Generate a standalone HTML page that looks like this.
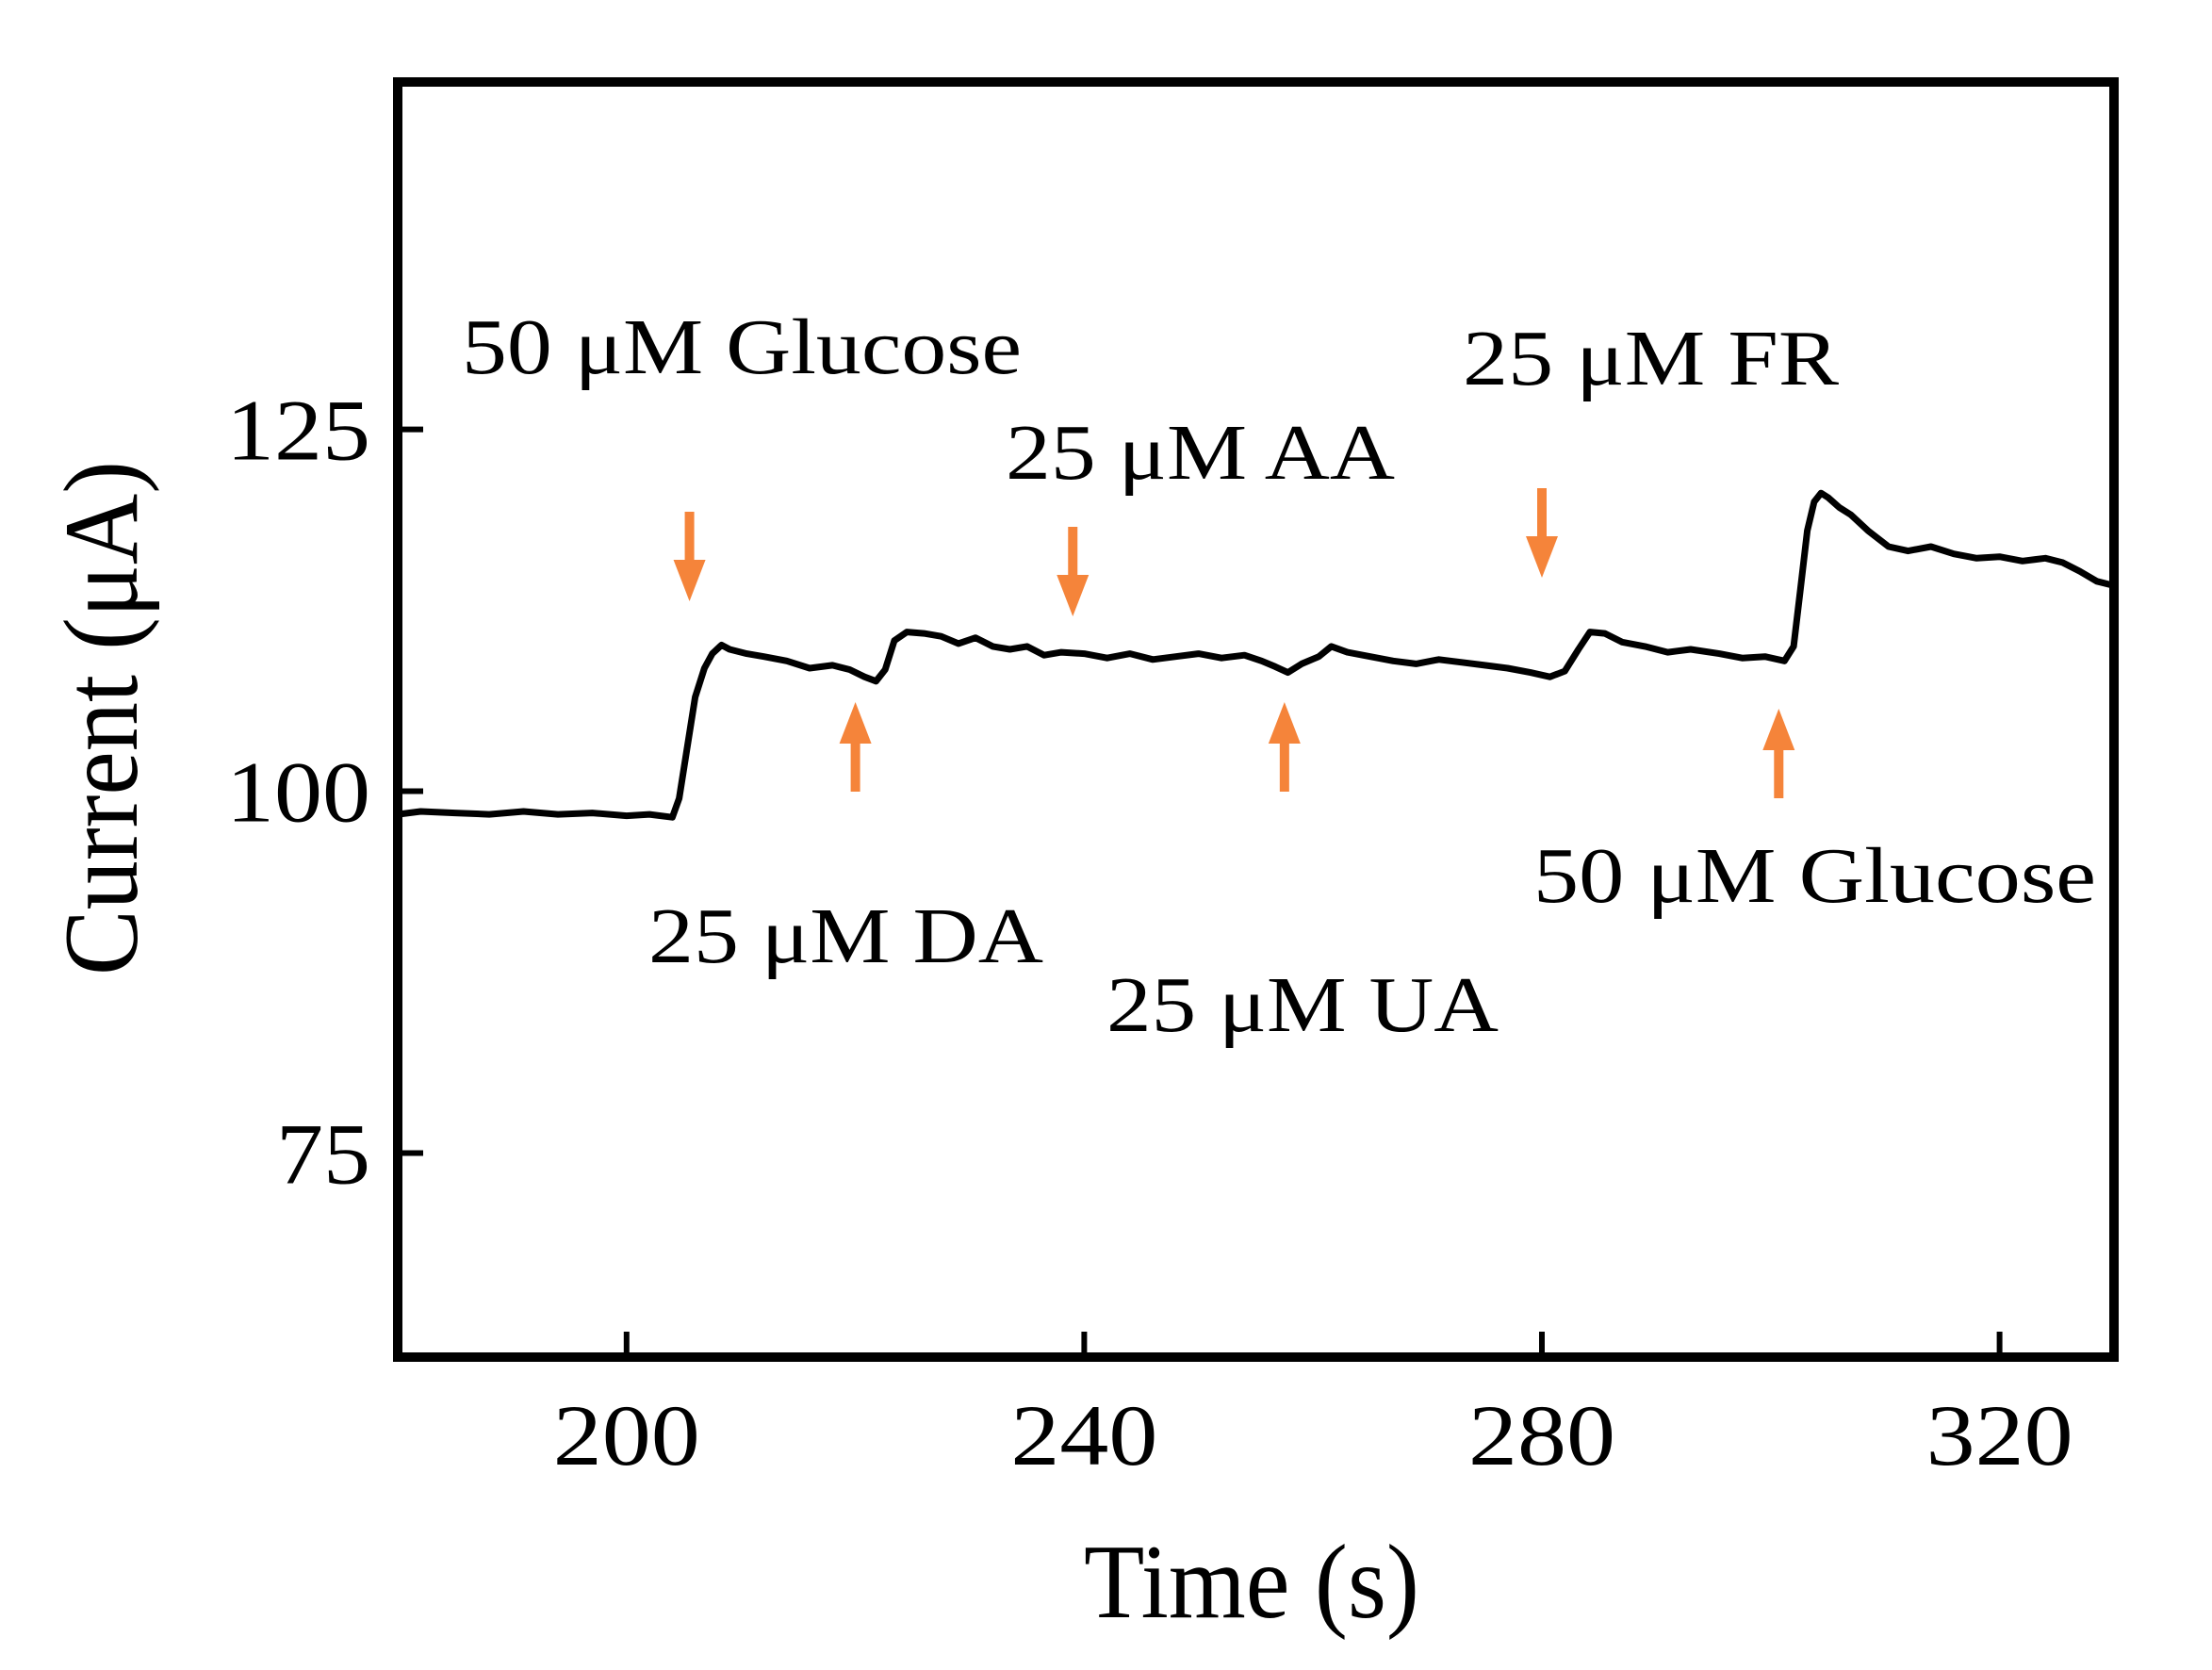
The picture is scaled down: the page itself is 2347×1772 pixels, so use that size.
<!DOCTYPE html>
<html><head><meta charset="utf-8"><style>
html,body{margin:0;padding:0;background:#fff;}
svg{display:block;}
text{font-family:"Liberation Serif",serif;fill:#000;}
</style></head><body>
<svg id="chart" width="2347" height="1772" viewBox="0 0 2347 1772"></svg>
<script>
const times = [180,182,185,188,191,194,197,200,202,204,204.6,205.3,206,206.8,207.5,208.3,209,210.5,212,214,216,218,219.5,220.8,221.8,222.6,223.4,224.5,226,227.5,229,230.5,232,233.5,235,236.5,238,240,242,244,246,248,250,252,254,255.5,256.7,257.8,259,260.5,261.6,263,265,267,269,271,273,275,277,279,280.7,282,283.2,284.2,285.5,287,289,291,293,295.5,297.5,299.5,301.2,302,302.6,303.2,303.8,304.4,305,306,307,308.5,310.3,312,314,316,318,320,322,324,325.5,327,328.5,330];
const currents = [98.4,98.6,98.5,98.4,98.6,98.4,98.5,98.3,98.4,98.2,99.5,103,106.5,108.5,109.5,110.1,109.8,109.5,109.3,109,108.5,108.7,108.4,107.9,107.6,108.4,110.4,111,110.9,110.7,110.2,110.6,110,109.8,110,109.4,109.6,109.5,109.2,109.5,109.1,109.3,109.5,109.2,109.4,109,108.6,108.2,108.8,109.3,110,109.6,109.3,109.0,108.8,109.1,108.9,108.7,108.5,108.2,107.9,108.3,109.8,111,110.9,110.3,110.0,109.6,109.8,109.5,109.2,109.3,109.0,110,114,118,120,120.6,120.3,119.6,119.1,118,116.9,116.6,116.9,116.4,116.1,116.2,115.9,116.1,115.8,115.2,114.5,114.2];
const xTicks = [200,240,280,320];
const yTicks = [75,100,125];
const annotations = [
 {t:"50 μM Glucose", x:490, y:396, w:594},
 {t:"25 μM AA", x:1067, y:508, w:413},
 {t:"25 μM FR", x:1552, y:408, w:399},
 {t:"25 μM DA", x:688, y:1021, w:419},
 {t:"25 μM UA", x:1174, y:1094, w:416},
 {t:"50 μM Glucose", x:1627, y:957, w:597}
];
const arrowTimes = [205.5, 220, 239, 257.5, 280, 300.7];
const arrowDirs = ["down","up","down","up","down","up"];

const L=422,R=2243,T=87,B=1440, X0=180,X1=330,Y0=60.9,Y1=149;
const sx=v=>L+(v-X0)/(X1-X0)*(R-L);
const sy=v=>B-(v-Y0)/(Y1-Y0)*(B-T);
const svg=document.getElementById('chart');
const NS='http://www.w3.org/2000/svg';
function mk(tag,attrs,parent){const e=document.createElementNS(NS,tag);for(const k in attrs)e.setAttribute(k,attrs[k]);(parent||svg).appendChild(e);return e;}

let d=times.map((t,i)=>(i?'L':'M')+sx(t).toFixed(1)+','+sy(currents[i]).toFixed(1)).join(' ');
const line=mk('path',{d:d,fill:'none',stroke:'#000','stroke-width':7,'stroke-linejoin':'round'});



const frame=mk('rect',{x:L,y:T,width:R-L,height:B-T,fill:'none',stroke:'#000','stroke-width':10});



xTicks.forEach(v=>{
 const tk=mk('line',{x1:sx(v),x2:sx(v),y1:B,y2:B-27,stroke:'#000','stroke-width':6});
 
 
 const tl=mk('text',{x:sx(v)-78,y:1554,'font-size':92,textLength:156,lengthAdjust:'spacingAndGlyphs'});
 tl.textContent=v;
 
 
});
yTicks.forEach(v=>{
 const tk=mk('line',{x1:L,x2:L+27,y1:sy(v),y2:sy(v),stroke:'#000','stroke-width':6});
 
 
 const w=String(v).length===3?153:100;
 const tl=mk('text',{x:393-w,y:sy(v)+32,'font-size':92,textLength:w,lengthAdjust:'spacingAndGlyphs'});
 tl.textContent=v;
 
 
});

annotations.forEach(a=>{
 const t=mk('text',{x:a.x,y:a.y,'font-size':84,textLength:a.w,lengthAdjust:'spacingAndGlyphs'});
 t.textContent=a.t;
 
 
});

arrowTimes.forEach((at,i)=>{
 const x=sx(at);
 const g=mk('g',{fill:'#f5843a',stroke:'none'});
 
 
 let y1,y2;
 if(arrowDirs[i]==='down'){
  y1=[543,559,518][[0,2,4].indexOf(i)]; y2=y1+95;
  mk('rect',{x:x-5,y:y1,width:10,height:y2-y1-40},g);
  mk('polygon',{points:`${x-17},${y2-44} ${x+17},${y2-44} ${x},${y2}`},g);
 } else {
  y1=[745,745,752][[1,3,5].indexOf(i)]; y2=y1+95;
  mk('rect',{x:x-5,y:y1+40,width:10,height:y2-y1-40},g);
  mk('polygon',{points:`${x-17},${y1+44} ${x+17},${y1+44} ${x},${y1}`},g);
 }
});

const xt=mk('text',{x:1150,y:1716,'font-size':112,textLength:356,lengthAdjust:'spacingAndGlyphs'});
xt.textContent='Time (s)';


const yt=mk('text',{x:-273,y:0,'font-size':112,textLength:546,lengthAdjust:'spacingAndGlyphs',transform:'translate(145,762) rotate(-90)'});
yt.textContent='Current (μA)';


</script>
</body></html>
